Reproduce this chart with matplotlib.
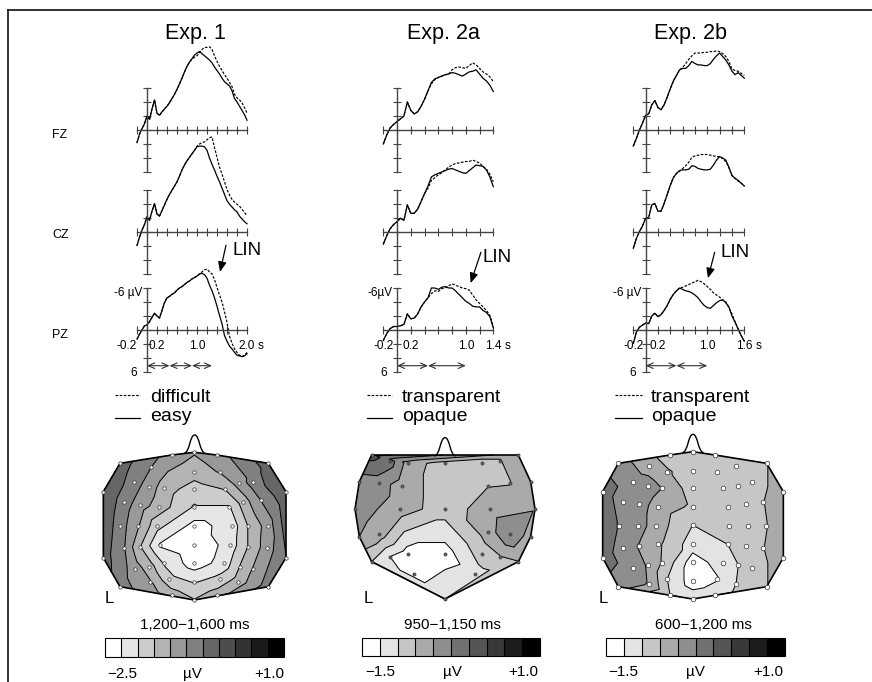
import numpy as np
import matplotlib
matplotlib.use("Agg")
import matplotlib.pyplot as plt
from matplotlib.tri import Triangulation
from matplotlib.path import Path
from matplotlib.patches import PathPatch, Polygon

plt.rcParams['font.family'] = ['Liberation Sans', 'DejaVu Sans']

W, H = 872, 682

# ---------------- ERP data (µV, negative plotted up), one sample per 50 ms
t_exp1 = np.round(np.arange(-4, 41) * 0.05, 2)
t_exp2a = np.round(np.arange(-4, 29) * 0.05, 2)
t_exp2b = np.round(np.arange(-4, 33) * 0.05, 2)

channels = ['FZ', 'CZ', 'PZ']
titles = ['Exp. 1', 'Exp. 2a', 'Exp. 2b']
exp1_conditions = ['difficult', 'easy']
exp2_conditions = ['transparent', 'opaque']

exp1_fz_easy = [1.8, 0.6, -0.2, -0.9, -2.0, -1.5, -3.0, -4.3, -2.4, -2.1, -2.6, -3.0, -3.4, -3.9, -4.5,
                -5.1, -5.8, -6.6, -7.4, -8.3, -9.1, -9.7, -10.2, -10.7, -11.0, -11.2, -10.9, -10.6, -10.3, -10.0,
                -9.6, -9.0, -8.5, -8.0, -7.4, -6.9, -6.6, -6.3, -5.6, -4.5, -4.0, -3.4, -2.8, -2.2, -1.4]
exp1_fz_difficult = [1.8, 0.6, -0.2, -0.9, -2.0, -1.5, -3.0, -4.3, -2.4, -2.1, -2.6, -3.0, -3.4, -3.9, -4.5,
                     -5.1, -5.8, -6.6, -7.4, -8.3, -9.1, -9.7, -10.1, -10.4, -10.6, -11.1, -11.5, -11.8, -11.8, -11.9,
                     -11.5, -10.6, -9.8, -9.1, -8.5, -7.9, -7.4, -6.8, -6.2, -5.1, -4.6, -4.3, -3.9, -3.2, -2.4]
exp1_cz_easy = [2.0, 0.8, -0.2, -1.0, -2.1, -1.6, -2.9, -4.0, -2.5, -2.2, -3.0, -3.8, -4.6, -5.3, -5.9,
                -6.5, -7.1, -7.9, -8.8, -9.5, -10.1, -10.6, -11.1, -11.6, -12.1, -12.2, -12.2, -12.1, -11.6, -10.5,
                -9.6, -8.8, -7.9, -7.1, -6.2, -5.3, -4.4, -3.9, -3.5, -3.1, -2.8, -2.2, -1.8, -1.4, -1.1]
exp1_cz_difficult = [2.0, 0.8, -0.2, -1.0, -2.1, -1.6, -2.9, -4.0, -2.5, -2.2, -3.0, -3.8, -4.6, -5.3, -5.9,
                     -6.5, -7.1, -7.9, -8.8, -9.5, -10.1, -10.6, -11.1, -11.6, -12.2, -12.5, -12.7, -12.8, -13.1, -13.4,
                     -13.5, -12.0, -10.6, -9.2, -8.2, -7.1, -6.0, -5.2, -4.6, -4.2, -3.9, -3.6, -3.2, -2.7, -2.3]
exp1_pz_easy = [1.3, 0.6, 0.0, -0.6, -0.7, -1.2, -1.8, -2.4, -2.0, -1.7, -2.8, -3.9, -4.6, -4.8, -5.1,
                -5.3, -5.7, -6.0, -6.2, -6.5, -6.8, -7.0, -7.3, -7.5, -7.7, -8.0, -8.1, -7.9, -7.4, -6.4,
                -5.6, -4.6, -3.4, -2.1, -0.9, 0.8, 1.6, 2.3, 2.7, 3.2, 3.6, 3.7, 3.8, 3.7, 3.4]
exp1_pz_difficult = [1.3, 0.6, 0.0, -0.6, -0.7, -1.2, -1.8, -2.4, -2.0, -1.7, -2.8, -3.9, -4.6, -4.8, -5.1,
                     -5.3, -5.7, -6.0, -6.2, -6.5, -6.8, -7.0, -7.3, -7.5, -7.7, -8.0, -8.3, -8.6, -8.7, -8.3,
                     -8.0, -7.2, -6.1, -5.0, -4.0, -2.6, -1.1, 0.9, 1.9, 2.7, 3.2, 3.6, 3.8, 3.6, 3.2]

exp2a_fz_opaque = [2.0, 0.7, -0.3, -0.8, -1.2, -1.6, -2.0, -4.0, -2.8, -2.3, -2.6, -3.4, -4.4, -5.6, -6.8,
                   -7.3, -7.5, -7.7, -7.9, -8.0, -8.2, -8.1, -7.9, -7.7, -8.0, -8.3, -8.4, -8.6, -8.0, -7.4,
                   -7.0, -6.4, -5.5]
exp2a_fz_transparent = [2.0, 0.7, -0.3, -0.8, -1.2, -1.6, -2.0, -4.0, -2.8, -2.3, -2.6, -3.4, -4.4, -5.6, -6.6,
                        -7.2, -7.5, -7.7, -7.9, -8.0, -8.6, -8.9, -9.0, -8.9, -8.8, -9.2, -9.6, -9.3, -8.8, -8.3,
                        -8.0, -7.6, -6.9]
exp2a_cz_opaque = [1.8, 0.6, -0.4, -1.0, -1.4, -1.9, -1.6, -3.8, -2.6, -2.6, -3.2, -4.3, -5.4, -6.5, -7.8,
                   -8.1, -8.3, -8.5, -8.7, -8.9, -9.0, -8.8, -8.6, -8.4, -8.3, -8.7, -9.1, -9.5, -9.4, -9.3,
                   -8.8, -7.8, -6.4]
exp2a_cz_transparent = [1.8, 0.6, -0.4, -1.0, -1.4, -1.9, -1.6, -3.8, -2.6, -2.6, -3.2, -4.3, -5.4, -6.2, -7.3,
                        -7.7, -8.1, -8.4, -8.8, -9.2, -9.5, -9.7, -9.8, -9.9, -10.0, -10.0, -10.2, -10.0, -9.8, -9.3,
                        -8.9, -8.2, -7.1]
exp2a_pz_opaque = [1.5, 0.5, -0.2, -0.5, -0.5, -0.6, -0.8, -2.3, -1.6, -1.7, -2.3, -3.3, -4.0, -4.6, -6.0,
                   -6.0, -5.8, -6.1, -6.2, -6.0, -6.0, -5.6, -5.1, -4.6, -4.1, -3.8, -3.4, -3.3, -3.3, -2.8,
                   -2.5, -1.9, -0.3]
exp2a_pz_transparent = [1.5, 0.5, -0.2, -0.5, -0.5, -0.6, -0.8, -2.3, -1.6, -1.7, -2.3, -3.3, -4.0, -4.6, -5.2,
                        -5.6, -5.5, -5.9, -6.0, -6.3, -6.6, -6.4, -6.2, -6.0, -5.9, -5.7, -5.0, -4.3, -3.8, -3.3,
                        -2.8, -2.1, -0.5]

exp2b_fz_opaque = [2.3, 1.2, 0.0, -1.0, -2.1, -2.3, -3.6, -4.2, -3.2, -2.9, -3.6, -4.7, -5.9, -7.0, -7.8,
                   -8.6, -8.8, -8.8, -9.2, -9.8, -9.5, -9.3, -9.3, -9.2, -9.2, -9.5, -10.1, -10.6, -11.0, -10.5,
                   -10.0, -9.3, -8.4, -7.9, -8.2, -7.8, -7.4]
exp2b_fz_transparent = [2.3, 1.2, 0.0, -1.0, -2.1, -2.3, -3.6, -4.2, -3.2, -2.9, -3.6, -4.7, -5.9, -7.0, -7.8,
                        -8.6, -8.9, -9.5, -10.1, -10.6, -11.0, -11.0, -11.0, -11.1, -11.1, -11.2, -11.2, -11.3, -11.2,
                        -10.9, -10.5, -9.8, -8.7, -8.5, -8.4, -8.1, -7.8]
exp2b_cz_opaque = [2.4, 1.0, 0.0, -0.8, -1.9, -2.0, -3.8, -4.0, -2.9, -2.9, -4.0, -5.3, -6.6, -7.7, -8.3,
                   -8.7, -8.8, -8.8, -8.9, -9.4, -9.3, -9.0, -8.9, -8.8, -8.8, -8.9, -9.5, -10.2, -10.7, -10.5,
                   -10.2, -9.2, -8.0, -7.6, -7.3, -6.9, -6.5]
exp2b_cz_transparent = [2.4, 1.0, 0.0, -0.8, -1.9, -2.0, -3.8, -4.0, -2.9, -2.9, -4.0, -5.3, -6.6, -7.7, -8.3,
                        -8.6, -9.0, -9.4, -9.9, -10.6, -10.8, -10.9, -11.0, -11.0, -11.0, -10.9, -10.8, -10.7, -10.7,
                        -10.4, -10.0, -9.1, -8.0, -7.6, -7.2, -6.9, -6.5]
exp2b_pz_opaque = [1.9, 0.3, -0.4, -0.7, -1.0, -0.9, -2.0, -2.4, -1.9, -2.2, -2.8, -3.5, -4.4, -5.1, -5.6,
                   -6.0, -5.8, -5.6, -5.5, -5.3, -5.0, -4.6, -4.0, -3.5, -3.2, -3.1, -3.5, -3.9, -4.2, -4.3,
                   -3.9, -3.3, -2.0, -1.1, -0.1, 0.8, 1.6]
exp2b_pz_transparent = [1.9, 0.3, -0.4, -0.7, -1.0, -0.9, -2.0, -2.4, -1.9, -2.2, -2.8, -3.5, -4.4, -5.1, -5.6,
                        -6.0, -6.1, -6.3, -6.5, -6.7, -6.9, -7.1, -6.9, -6.6, -6.2, -5.8, -5.3, -5.0, -4.7, -4.3,
                        -4.0, -3.2, -2.3, -1.2, -0.2, 0.8, 1.6]

# analysis windows (s) marked by double arrows
exp1_windows = [0.0, 0.45, 0.9, 1.3]
exp2a_windows = [0.0, 0.45, 1.0]
exp2b_windows = [0.0, 0.5, 1.0]

# ---------------- topographic maps: electrode layout units (y down) and mean amplitude (µV)
exp1_ex = [240, 395, 463, 530, 685, 333, 463, 540, 283, 328, 373, 463, 555, 598, 640, 190, 738, 253, 300,
           358, 463, 568, 610, 663, 240, 295, 350, 463, 575, 625, 685, 253, 300, 360, 463, 570, 625, 680,
           190, 738, 285, 328, 373, 463, 553, 600, 640, 330, 388, 463, 540, 595, 240, 685, 395, 463, 530]
exp1_ey = [130, 105, 97, 105, 130, 140, 155, 155, 185, 200, 205, 208, 207, 188, 187, 215, 215, 245, 255,
           262, 262, 262, 245, 240, 318, 318, 318, 318, 318, 318, 318, 383, 380, 375, 375, 375, 380, 383,
           413, 413, 447, 440, 430, 430, 430, 440, 447, 485, 478, 485, 478, 485, 500, 500, 525, 540, 525]
exp1_uv = [-0.43, -1.07, -1.2, -1.07, -0.43, -0.9, -1.39, -1.2, -0.75, -1.07, -1.39, -1.7, -1.53, -1.07,
           -0.75, -0.3, -0.3, -0.75, -1.07, -1.39, -1.9, -1.9, -1.39, -0.9, -0.75, -1.2, -1.75, -2.3,
           -2.05, -1.53, -1.07, -0.9, -1.53, -2.22, -2.45, -2.05, -1.53, -1.07, -0.43, -0.6, -1.07, -1.39,
           -1.9, -2.35, -2.05, -1.53, -1.2, -1.2, -1.75, -1.9, -1.75, -1.39, -0.75, -0.75, -1.39, -1.53, -1.39]

exp2a_ex = [155, 210, 265, 375, 485, 540, 595, 118, 178, 245, 503, 570, 632, 105, 240, 375, 510, 645,
            118, 178, 505, 570, 632, 155, 210, 265, 375, 485, 540, 595, 283, 465, 375]
exp2a_ey = [105, 122, 130, 130, 130, 122, 105, 185, 190, 197, 197, 190, 185, 267, 267, 267, 267, 267,
            350, 343, 335, 343, 350, 425, 410, 403, 403, 403, 410, 425, 463, 463, 537]
exp2a_uv = [0.1, -0.12, -0.62, -0.88, -0.88, -0.76, -0.62, -0.38, -0.38, -0.62, -0.76, -0.76, -0.52,
            -0.38, -0.62, -0.88, -0.62, -0.52, -0.5, -0.62, -0.62, -0.27, -0.62, -1.0, -1.25, -1.38,
            -1.38, -0.88, -0.76, -0.76, -1.38, -1.12, -1.0]

exp2b_ex = [115, 270, 338, 405, 560, 208, 262, 338, 412, 468, 158, 203, 245, 338, 428, 475, 517, 68, 610,
            128, 178, 233, 338, 443, 498, 548, 118, 173, 228, 338, 448, 503, 558, 128, 178, 233, 338, 443,
            498, 548, 68, 610, 158, 203, 245, 338, 428, 475, 517, 115, 208, 262, 338, 412, 468, 560, 270,
            338, 405]
exp2b_ey = [130, 105, 95, 105, 130, 138, 155, 152, 155, 138, 185, 197, 205, 205, 205, 197, 185, 215, 215,
            245, 253, 260, 262, 260, 253, 245, 317, 317, 317, 315, 317, 317, 317, 383, 378, 373, 372, 373,
            378, 383, 413, 413, 445, 435, 428, 425, 428, 435, 445, 500, 493, 477, 482, 477, 493, 500, 525,
            537, 525]
exp2b_uv = [-0.38, -0.88, -0.88, -0.88, -0.76, -0.62, -0.72, -0.88, -0.88, -0.88, -0.38, -0.38, -0.5,
            -0.88, -0.88, -0.88, -0.88, -0.12, -0.62, -0.38, -0.4, -0.6, -0.8, -0.88, -0.88, -0.76,
            -0.27, -0.38, -0.62, -1.0, -1.0, -0.88, -0.76, -0.38, -0.52, -0.7, -1.12, -1.0, -0.88, -0.76,
            -0.12, -0.62, -0.38, -0.52, -0.76, -1.38, -1.12, -1.0, -0.88, -0.38, -0.52, -1.0, -1.38, -1.27,
            -1.0, -0.76, -1.0, -1.12, -1.12]

time_ranges = ['1,200\u22121,600 ms', '950\u22121,150 ms', '600\u22121,200 ms']
scale_min = [-2.5, -1.5, -1.5]
scale_max = [1.0, 1.0, 1.0]
scale_steps = [11, 10, 10]

# ---------------- figure
fig = plt.figure(figsize=(W / 100, H / 100), dpi=100)


def px_axes(x0, y0, x1, y1):
    return fig.add_axes([x0 / W, 1 - y1 / H, (x1 - x0) / W, (y1 - y0) / H])


def hull(xs, ys):
    pts = sorted(zip(xs, ys))

    def cross(o, a, b):
        return (a[0] - o[0]) * (b[1] - o[1]) - (a[1] - o[1]) * (b[0] - o[0])
    lower, upper = [], []
    for p in pts:
        while len(lower) >= 2 and cross(lower[-2], lower[-1], p) <= 0:
            lower.pop()
        lower.append(p)
    for p in reversed(pts):
        while len(upper) >= 2 and cross(upper[-2], upper[-1], p) <= 0:
            upper.pop()
        upper.append(p)
    return lower[:-1] + upper[:-1]


bg = px_axes(0, 0, W, H)
bg.set_xlim(0, W)
bg.set_ylim(H, 0)
bg.axis('off')
bg.plot([8, W], [10, 10], color='#222', lw=1.3)
bg.plot([8, 8], [10, H], color='#222', lw=1.3)

erp_times = [t_exp1, t_exp2a, t_exp2b]
erp_waves = [
    [(exp1_fz_difficult, exp1_fz_easy), (exp1_cz_difficult, exp1_cz_easy), (exp1_pz_difficult, exp1_pz_easy)],
    [(exp2a_fz_transparent, exp2a_fz_opaque), (exp2a_cz_transparent, exp2a_cz_opaque),
     (exp2a_pz_transparent, exp2a_pz_opaque)],
    [(exp2b_fz_transparent, exp2b_fz_opaque), (exp2b_cz_transparent, exp2b_cz_opaque),
     (exp2b_pz_transparent, exp2b_pz_opaque)],
]
conditions = [exp1_conditions, exp2_conditions, exp2_conditions]
windows = [exp1_windows, exp2a_windows, exp2b_windows]

# layout (pixels)
erp_x = [(137, 247), (383.3, 493.3), (633.3, 744.3)]
chan_y0 = [130, 231.5, 330]
title_x = [195, 443, 690]
legend_x = [(115, 140, 150), (367, 392, 402), (615, 642, 651)]
lin_pos = [((1.46, -8.3), (1.58, -12.1), (2.0, -11.4)),
           ((1.07, -6.7), (1.22, -11.1), (1.46, -10.4)),
           ((1.01, -7.4), (1.12, -11.1), (1.45, -11.0))]
uv_label = ['-6 \u00b5V', '-6\u00b5V', '-6 \u00b5V']
dash = (0, (2.2, 1.3))
axis_col = '#444'

for c in range(3):
    t = erp_times[c]
    x0, x1 = erp_x[c]
    tmin, tmax = t[0], t[-1]
    bg.text(title_x[c], 38.5, titles[c], fontsize=15.5, ha='center', va='baseline')
    for k, y0 in enumerate(chan_y0):
        ax = px_axes(x0, y0 - 14 * 7, x1, y0 + 7 * 7)
        ax.set_xlim(tmin, tmax)
        ax.set_ylim(7, -14)
        ax.patch.set_visible(False)
        for s in ['top', 'right']:
            ax.spines[s].set_visible(False)
        ax.spines['left'].set_position(('data', 0))
        ax.spines['left'].set_bounds(-6, 6)
        ax.spines['bottom'].set_position(('data', 0))
        ax.spines['bottom'].set_bounds(tmin, tmax)
        for s in ['left', 'bottom']:
            ax.spines[s].set_linewidth(1.0)
            ax.spines[s].set_color(axis_col)
        ax.set_xticks(np.round(np.arange(tmin, tmax + 1e-6, 0.2), 2))
        ax.set_yticks([-6, -4, -2, 0, 2, 4, 6])
        ax.tick_params(direction='inout', length=5.5, width=0.8, colors=axis_col,
                       labelbottom=False, labelleft=False)
        hard, easy = erp_waves[c][k]
        ax.plot(t, hard, color='k', lw=0.85, ls=dash, clip_on=False)
        ax.plot(t, easy, color='k', lw=0.9, clip_on=False)
        if c == 0:
            bg.text(52, [137.5, 238, 338][k], channels[k], fontsize=9, ha='left', va='baseline')
        if k == 2:
            fs = 8.5
            ax.text(-0.2, 2.76, '-0.2', fontsize=fs, ha='right' if c == 0 else 'center', va='baseline')
            ax.text(0.2, 2.76, '0.2', fontsize=fs, ha='center', va='baseline')
            ax.text(1.0, 2.76, '1.0', fontsize=fs, ha='center', va='baseline')
            ax.text(tmax, 2.76, '%.1f' % tmax, fontsize=fs, ha='center', va='baseline')
            ax.annotate('s', xy=(tmax, 2.76), xytext=(8, 0), textcoords='offset points',
                        fontsize=fs, ha='left', va='baseline')
            ax.annotate(uv_label[c], xy=(0, -4.9), xytext=(-3, 0), textcoords='offset points',
                        fontsize=fs, ha='right', va='baseline')
            ax.annotate('6', xy=(0, 6.6), xytext=(-7, 0), textcoords='offset points',
                        fontsize=fs, ha='right', va='baseline')
            w = windows[c]
            for a, b in zip(w[:-1], w[1:]):
                ax.annotate('', xy=(b, 5.1), xytext=(a, 5.1),
                            arrowprops=dict(arrowstyle='<->,head_length=0.45,head_width=0.2',
                                            lw=0.8, color='#333', shrinkA=0, shrinkB=0))
            head, tail, txt = lin_pos[c]
            ax.annotate('', xy=head, xytext=tail,
                        arrowprops=dict(arrowstyle='-|>,head_length=0.6,head_width=0.25',
                                        lw=0.9, color='k', shrinkA=0, shrinkB=0))
            ax.text(txt[0], txt[1], 'LIN', fontsize=13.5, ha='center', va='center')

    lx0, lx1, tx = legend_x[c]
    bg.plot([lx0, lx1], [395, 395], color='k', lw=0.85, ls=dash)
    bg.plot([lx0, lx1], [418, 418], color='k', lw=0.9)
    bg.text(tx, 401.5, conditions[c][0], fontsize=14, ha='left', va='baseline')
    bg.text(tx, 421, conditions[c][1], fontsize=14, ha='left', va='baseline')

# ---------------- maps
map_x = [exp1_ex, exp2a_ex, exp2b_ex]
map_y = [exp1_ey, exp2a_ey, exp2b_ey]
map_v = [exp1_uv, exp2a_uv, exp2b_uv]
map_origin = [40, 320, 580]
map_xlim = [(130, 800), (60, 700), (20, 660)]
dot_face = ['white', '#666', 'white']
dot_size = [6, 5, 11]
l_x = [195, 130, 55]
range_x = [195, 452, 703]
cbar_rect = [(105, 638, 284, 657), (362, 638, 540, 656), (606, 638, 785, 656)]
cbar_lab = [(0.095, 0.486, 0.92), (0.10, 0.506, 0.905), (0.095, 0.497, 0.905)]

for c in range(3):
    ox = map_origin[c]
    xa, xb = map_xlim[c]
    ax = px_axes(ox + xa / 3, 420 + 20 / 3, ox + xb / 3, 420 + 570 / 3)
    ax.set_xlim(xa, xb)
    ax.set_ylim(570, 20)
    ax.axis('off')
    n = scale_steps[c]
    levels = np.linspace(scale_min[c], scale_max[c], n + 1)
    grays = [str(round(1 - i / (n - 1), 3)) for i in range(n)]
    ex, ey, ev = map_x[c], map_y[c], map_v[c]
    tri = Triangulation(ex, ey)
    cs = ax.tricontourf(tri, ev, levels=levels, colors=grays)
    ax.tricontour(tri, ev, levels=levels[1:-1], colors='k', linewidths=0.7, linestyles='solid')
    outline = hull(ex, ey)
    ax.add_patch(Polygon(outline, closed=True, fill=False, ec='k', lw=1.2, zorder=4))
    cx = (min(ex) + max(ex)) / 2
    top = min(ey)
    nose = Path([(cx - 32, top + 3), (cx - 14, top), (cx - 15, top - 52), (cx, top - 52),
                 (cx + 15, top - 52), (cx + 14, top), (cx + 32, top + 3)],
                [Path.MOVETO, Path.CURVE4, Path.CURVE4, Path.CURVE4,
                 Path.CURVE4, Path.CURVE4, Path.CURVE4])
    ax.add_patch(PathPatch(nose, fill=False, ec='k', lw=1.0, zorder=4))
    ax.scatter(ex, ey, s=dot_size[c], facecolor=dot_face[c], edgecolor='#333', linewidths=0.5, zorder=5)
    ax.text(l_x[c], 548, 'L', fontsize=12, ha='left', va='baseline')

    bg.text(range_x[c], 629, time_ranges[c], fontsize=11, ha='center', va='baseline')
    r = cbar_rect[c]
    cax = px_axes(*r)
    cb = fig.colorbar(cs, cax=cax, orientation='horizontal', drawedges=True)
    cb.set_ticks([])
    cb.outline.set_linewidth(0.8)
    cb.dividers.set_linewidth(0.8)
    cb.dividers.set_color('k')
    fx = cbar_lab[c]
    lo = '\u2212%.1f' % abs(scale_min[c])
    hi = '+%.1f' % scale_max[c]
    for xf, s in zip(fx, [lo, '\u00b5V', hi]):
        cax.text(xf, -1.1, s, transform=cax.transAxes, fontsize=11, ha='center', va='baseline')

fig.savefig('out.png', dpi=100)
